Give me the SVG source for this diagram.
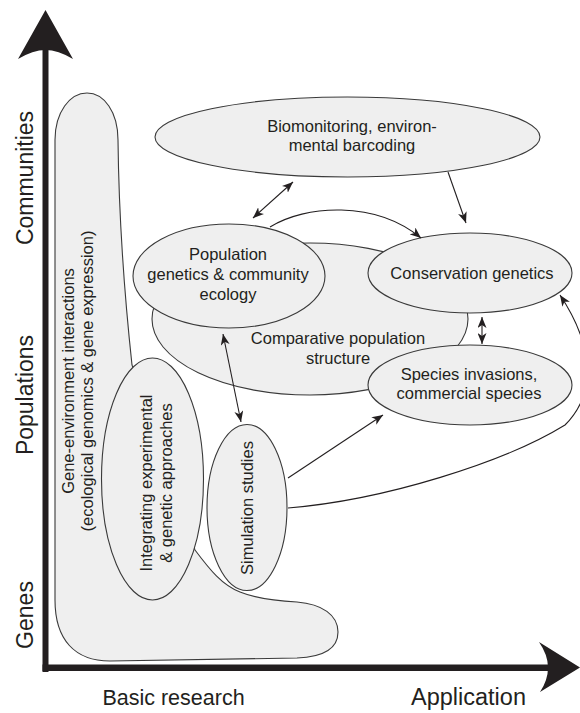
<svg xmlns="http://www.w3.org/2000/svg" width="580" height="713" viewBox="0 0 580 713">
<style>
.nd{fill:#efefef;stroke:#3a3a3a;stroke-width:1.1}
.t{font-family:"Liberation Sans",Arial,sans-serif;font-size:16.5px;fill:#231f20;text-anchor:middle}
.ax{font-family:"Liberation Sans",Arial,sans-serif;fill:#231f20;text-anchor:middle}
.c{fill:none;stroke:#231f20;stroke-width:1.1}
</style>
<defs>
<marker id="ah" viewBox="0 0 11 9" refX="11" refY="4.5" markerWidth="11" markerHeight="9" markerUnits="userSpaceOnUse" orient="auto-start-reverse">
<path d="M0,0 L11,4.5 L0,9 L3,4.5 Z" fill="#231f20"/>
</marker>
</defs>
<rect width="580" height="713" fill="#ffffff"/>

<g id="axes">
<rect x="42.5" y="45" width="6" height="627" fill="#231f20"/>
<rect x="42.5" y="664.5" width="510" height="6.5" fill="#231f20"/>
<path d="M45.5,10 L73,59 Q58,50 45.5,50 Q33,50 18,59 Z" fill="#231f20"/>
<path d="M580,667.5 L539,642 Q548,655 548,667.5 Q548,680 540,692 Z" fill="#231f20"/>
<text class="ax" font-size="23" transform="translate(33,178) rotate(-90)">Communities</text>
<text class="ax" font-size="23" transform="translate(33,395) rotate(-90)">Populations</text>
<text class="ax" font-size="23" transform="translate(33,615) rotate(-90)">Genes</text>
<text class="ax" font-size="21.5" x="173.5" y="705">Basic research</text>
<text class="ax" font-size="23.5" x="468.5" y="705">Application</text>
</g>

<g id="gene-environment">
<path class="nd" d="M55,600 L55,140 C55,112 70,93 87,93 C104,93 118,112 118,140 C119,230 125,300 132,365 L163,457 L195,550 C210,570 222,585 240,592 C255,598 275,601 297,602 C322,604 338,615 338,632 C338,649 322,657 297,658 L110,661 C75,661 55,640 55,600 Z"/>
<text class="t" transform="translate(74,381) rotate(-90)">Gene-environment interactions</text>
<text class="t" transform="translate(93,381) rotate(-90)">(ecological genomics &amp; gene expression)</text>
</g>

<g id="comparative">
<ellipse class="nd" cx="310" cy="319" rx="158" ry="76"/>
<text class="t" x="338" y="344">Comparative population</text>
<text class="t" x="338" y="364">structure</text>
</g>

<g id="population">
<ellipse class="nd" cx="229" cy="276" rx="96" ry="52"/>
<text class="t" x="228" y="260">Population</text>
<text class="t" x="228" y="280">genetics &amp; community</text>
<text class="t" x="228" y="300">ecology</text>
</g>

<g id="biomonitoring">
<ellipse class="nd" cx="347.5" cy="137" rx="192.5" ry="40"/>
<text class="t" x="352" y="132">Biomonitoring, environ-</text>
<text class="t" x="352" y="151">mental barcoding</text>
</g>

<g id="conservation">
<ellipse class="nd" cx="470" cy="273" rx="102" ry="40"/>
<text class="t" x="472" y="279">Conservation genetics</text>
</g>

<g id="species">
<ellipse class="nd" cx="470" cy="385" rx="102" ry="40"/>
<text class="t" x="469" y="380">Species invasions,</text>
<text class="t" x="469" y="399">commercial species</text>
</g>

<g id="integrating">
<ellipse class="nd" cx="152.5" cy="479" rx="51" ry="121"/>
<text class="t" transform="translate(152,483) rotate(-90)">Integrating experimental</text>
<text class="t" transform="translate(172,483) rotate(-90)">&amp; genetic approaches</text>
</g>

<g id="simulation">
<ellipse class="nd" cx="247" cy="507.5" rx="40" ry="83"/>
<text class="t" transform="translate(253,508) rotate(-90)">Simulation studies</text>
</g>

<g id="connectors">
<line class="c" x1="253" y1="218" x2="293" y2="182" marker-start="url(#ah)" marker-end="url(#ah)"/>
<path class="c" d="M270,227 C305,205 375,200 421,238" marker-end="url(#ah)"/>
<line class="c" x1="448" y1="172" x2="466" y2="223" marker-end="url(#ah)"/>
<line class="c" x1="482" y1="317" x2="482" y2="344" marker-start="url(#ah)" marker-end="url(#ah)"/>
<line class="c" x1="223" y1="334" x2="241" y2="422" marker-start="url(#ah)" marker-end="url(#ah)"/>
<line class="c" x1="288" y1="478" x2="383" y2="415" marker-end="url(#ah)"/>
<path class="c" d="M288,508 C385,500 505,462 565,425 C600,390 590,340 560,295" marker-end="url(#ah)"/>
</g>
</svg>
